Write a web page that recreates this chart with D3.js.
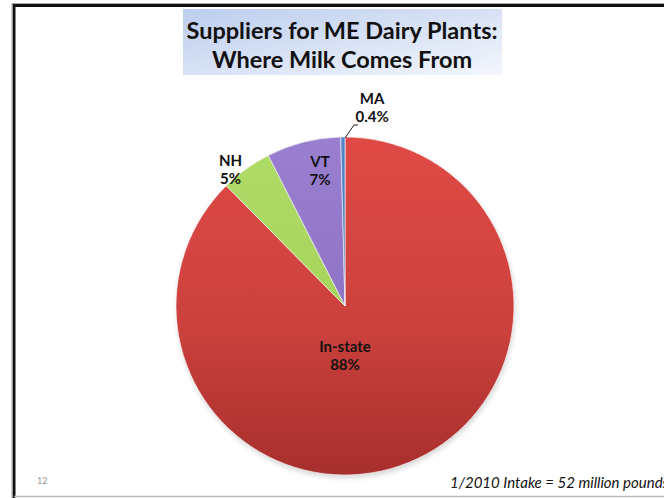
<!DOCTYPE html>
<html>
<head>
<meta charset="utf-8">
<script src="https://cdn.jsdelivr.net/npm/d3@7"></script>
<style>
  html, body { margin: 0; padding: 0; background: #fff; }
  svg { display: block; }
  text { font-family: Lato, "Open Sans", sans-serif; }
</style>
</head>
<body>
<div id="chart"></div>
<script>
var svgWidth = 664;
var svgHeight = 498;

// slice data, clockwise from 12 o'clock
var regions = ["In-state", "NH", "VT", "MA"];
var shares = [87.6, 4.9, 7.1, 0.4];
var shareLabels = ["88%", "5%", "7%", "0.4%"];
var titleLines = ["Suppliers for ME Dairy Plants:", "Where Milk Comes From"];
var footNote = "1/2010 Intake = 52 million pounds";
var slideNumber = "12";

var colors = {
  "In-state": ["#e04a46", "#a72f2d"],
  "NH": ["#b0dc68", "#8fc23e"],
  "VT": ["#9a7fd0", "#7a5cb4"],
  "MA": ["#4f86c8", "#2f5d9c"]
};

var cx = 345, cy = 306, radius = 169;

// label anchors: [angle in degrees clockwise from top, distance from centre]
var labelAt = {
  "In-state": [180, 50],
  "NH": [320, 178],
  "VT": [349.5, 137],
  "MA": [7.8, 200]
};

var svg = d3.select("#chart")
  .append("svg")
  .attr("width", svgWidth)
  .attr("height", svgHeight);

var defs = svg.append("defs");

// slide frame
svg.append("rect")
  .attr("x", 0).attr("y", 0)
  .attr("width", svgWidth).attr("height", svgHeight)
  .attr("fill", "#fff");

svg.append("path")
  .attr("d", `M14,${svgHeight} L14,5.5 L${svgWidth},5.5`)
  .attr("fill", "none")
  .attr("stroke", "#111")
  .attr("stroke-width", 3);
svg.append("path")
  .attr("d", `M12,${svgHeight} L12,3.5 L${svgWidth},3.5`)
  .attr("fill", "none")
  .attr("stroke", "#aaa")
  .attr("stroke-width", 1);
svg.append("line")
  .attr("x1", 14).attr("x2", svgWidth)
  .attr("y1", 496.5).attr("y2", 496.5)
  .attr("stroke", "#bbb")
  .attr("stroke-width", 1.5);

// title box
var tg = defs.append("linearGradient")
  .attr("id", "titleGrad")
  .attr("x1", "0%").attr("y1", "0%")
  .attr("x2", "100%").attr("y2", "100%");
tg.append("stop").attr("offset", "0%").attr("stop-color", "#bccdee");
tg.append("stop").attr("offset", "100%").attr("stop-color", "#f3f6fc");

svg.append("rect")
  .attr("x", 183).attr("y", 9)
  .attr("width", 319).attr("height", 66)
  .attr("fill", "url(#titleGrad)");

svg.selectAll("text.title")
  .data(titleLines)
  .enter()
  .append("text")
  .attr("class", "title")
  .attr("x", 342)
  .attr("y", (d, i) => 39 + i * 29)
  .attr("text-anchor", "middle")
  .attr("font-size", 23.5)
  .attr("font-weight", "bold")
  .attr("fill", "#111")
  .text(d => d);

// pie
var data = regions.map((r, i) => ({ region: r, value: shares[i], label: shareLabels[i] }));

var pie = d3.pie()
  .sort(null)
  .value(d => d.value);

var arc = d3.arc()
  .innerRadius(0)
  .outerRadius(radius);

regions.forEach(function(r, i) {
  var g = defs.append("linearGradient")
    .attr("id", "grad" + i)
    .attr("gradientUnits", "userSpaceOnUse")
    .attr("x1", 0).attr("y1", -radius)
    .attr("x2", 0).attr("y2", radius);
  g.append("stop").attr("offset", "0%").attr("stop-color", colors[r][0]);
  g.append("stop").attr("offset", "55%").attr("stop-color", d3.interpolateRgb(colors[r][0], colors[r][1])(0.35));
  g.append("stop").attr("offset", "100%").attr("stop-color", colors[r][1]);
});

var blur = defs.append("filter").attr("id", "shadow")
  .attr("x", "-10%").attr("y", "-10%").attr("width", "120%").attr("height", "120%");
blur.append("feGaussianBlur").attr("stdDeviation", 2.5);

var pieGroup = svg.append("g")
  .attr("transform", `translate(${cx}, ${cy})`);

pieGroup.append("circle")
  .attr("cx", 1).attr("cy", 3)
  .attr("r", radius)
  .attr("fill", "#888")
  .attr("opacity", 0.35)
  .attr("filter", "url(#shadow)");

pieGroup.selectAll("path.slice")
  .data(pie(data))
  .enter()
  .append("path")
  .attr("class", "slice")
  .attr("d", arc)
  .attr("fill", (d, i) => `url(#grad${i})`)
  .attr("stroke", "#fff")
  .attr("stroke-width", 0.6);

// leader line for MA
var maLine = [[0, -radius + 1], [9, -181], [13, -181]];
pieGroup.append("path")
  .attr("d", d3.line()(maLine))
  .attr("fill", "none")
  .attr("stroke", "#222")
  .attr("stroke-width", 1);

// labels
var labels = pieGroup.selectAll("g.label")
  .data(data)
  .enter()
  .append("g")
  .attr("class", "label")
  .attr("transform", function(d) {
    var a = labelAt[d.region][0] * Math.PI / 180;
    var rr = labelAt[d.region][1];
    return `translate(${rr * Math.sin(a)}, ${-rr * Math.cos(a)})`;
  });

labels.append("text")
  .attr("text-anchor", "middle")
  .attr("y", -4)
  .attr("font-size", 15)
  .attr("font-weight", "bold")
  .attr("fill", "#111")
  .text(d => d.region);

labels.append("text")
  .attr("text-anchor", "middle")
  .attr("y", 14)
  .attr("font-size", 15)
  .attr("font-weight", "bold")
  .attr("fill", "#111")
  .text(d => d.label);

// footer (cut at the right edge, as on the slide)
svg.append("text")
  .attr("x", 450)
  .attr("y", 488)
  .attr("font-size", 15)
  .attr("font-style", "italic")
  .attr("fill", "#111")
  .text(footNote);

svg.append("text")
  .attr("x", 37)
  .attr("y", 484)
  .attr("font-size", 9)
  .attr("fill", "#999")
  .text(slideNumber);
</script>
</body>
</html>
